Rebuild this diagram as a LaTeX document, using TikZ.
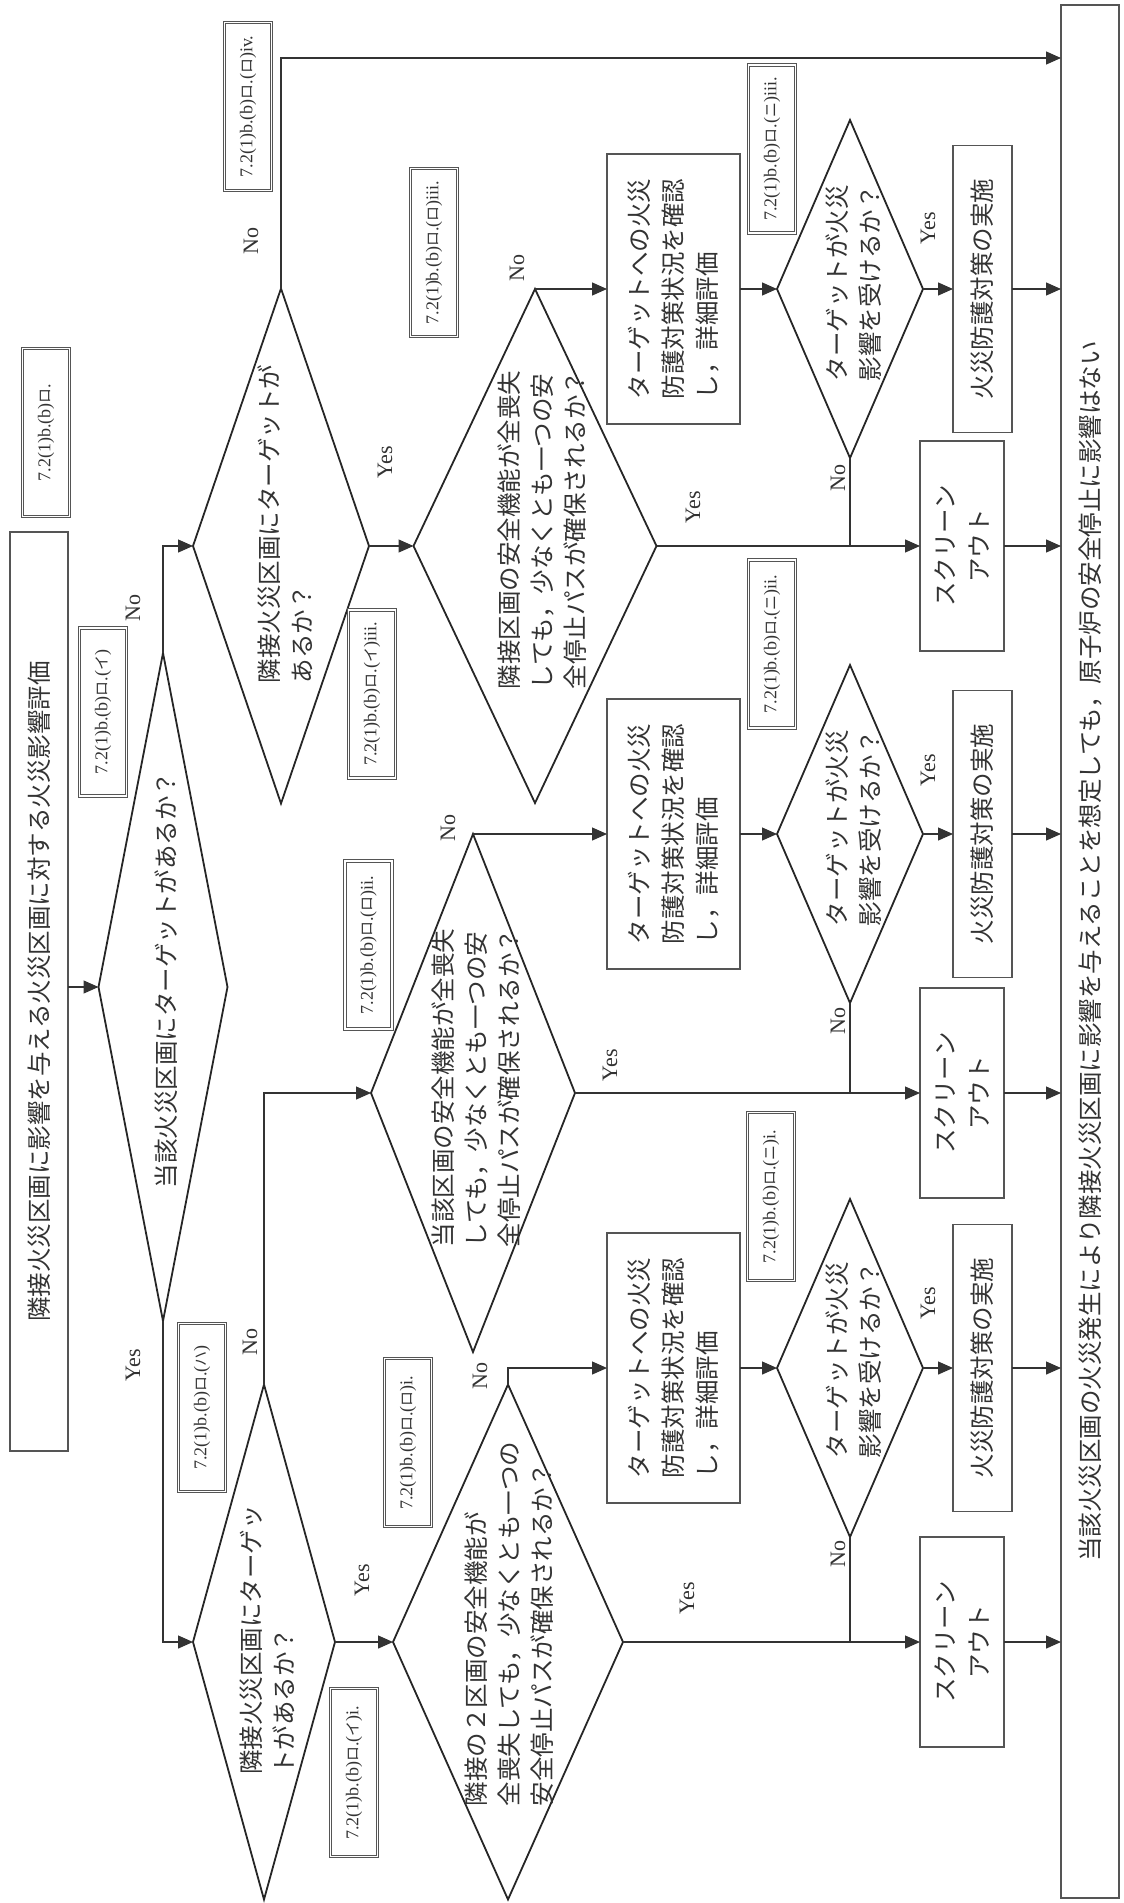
\documentclass[tikz,border=0pt]{standalone}
\usepackage{fontspec}
\setmainfont{Liberation Serif}
\newfontfamily\jp{Noto Sans CJK JP}
\usepackage{tikz}
\usetikzlibrary{arrows.meta,shapes.geometric}
\definecolor{FlowInk}{HTML}{333333}
\definecolor{FlowEdge}{HTML}{555555}
\newcommand{\kj}[1]{{\jp\fontsize{15}{15}\selectfont #1}}
\newcommand{\refno}[1]{7.2(1)b.(b)\kj{ロ}.#1}

\begin{document}
\begin{tikzpicture}[
    x=1pt, y=-1pt,
    color=FlowInk, line width=1.3pt,
    dia/.style={draw=black!85, line width=1.8pt, shape=diamond, inner sep=0pt, outer sep=0pt},
    judge/.style={dia, minimum width=146pt, minimum height=338pt},
    qtxt/.style={rotate=90, align=left, font=\jp\fontsize{24.5}{33}\selectfont},
    flowbox/.style={draw=FlowEdge, rotate=90, inner sep=0pt, outer sep=0pt, font=\jp\fontsize{24.5}{34}\selectfont},
    evalbox/.style={flowbox, align=left, minimum width=270pt, minimum height=133pt},
    actbox/.style={flowbox, minimum width=287pt, minimum height=59pt},
    outbox/.style={flowbox, align=center, minimum width=210pt, minimum height=84pt},
    refbox/.style={draw=FlowEdge, double=white, double distance=1.6pt, line width=0.9pt, rotate=90,
      minimum width=168pt, minimum height=47pt, inner sep=0pt, font=\fontsize{18}{18}\selectfont},
    yn/.style={rotate=90, font=\fontsize{22}{22}\selectfont},
    arr/.style={-{Triangle[length=15pt,width=13pt]}}
  ]
  \useasboundingbox (0,0) rectangle (1124,1903);

  % start and result
  \node[flowbox, minimum width=919pt, minimum height=58pt] (start) at (39,991.5)
    {隣接火災区画に影響を与える火災区画に対する火災影響評価};
  \node[flowbox, minimum width=1893pt, minimum height=58pt] (result) at (1090,951.5)
    {当該火災区画の火災発生により隣接火災区画に影響を与えることを想定しても，原子炉の安全停止に影響はない};

  % questions
  \node[dia, minimum width=129pt, minimum height=668pt] (q1) at (163,987) {};
  \node[qtxt] (q1t) at (166,980) {当該火災区画にターゲットがあるか？};
  \node[dia, minimum width=176pt, minimum height=515pt] (q2) at (281,546) {};
  \node[qtxt] (q2t) at (285.5,524) {隣接火災区画にターゲットが\\あるか？};
  \node[dia, minimum width=243pt, minimum height=514pt] (q3) at (535,546) {};
  \node[qtxt] (q3t) at (542,530) {隣接区画の安全機能が全喪失\\しても，少なくとも一つの安\\全停止パスが確保されるか？};
  \node[judge] (q4) at (850,289) {};
  \node[qtxt] (q4t) at (854,283) {ターゲットが火災\\影響を受けるか？};
  \node[dia, minimum width=142pt, minimum height=515pt] (q5) at (264,1642) {};
  \node[qtxt] (q5t) at (267.5,1640) {隣接火災区画にターゲッ\\トがあるか？};
  \node[dia, minimum width=204pt, minimum height=518pt] (q6) at (473,1093) {};
  \node[qtxt] (q6t) at (476,1088) {当該区画の安全機能が全喪失\\しても，少なくとも一つの安\\全停止パスが確保されるか？};
  \node[judge] (q7) at (850,834) {};
  \node[qtxt] (q7t) at (854,828) {ターゲットが火災\\影響を受けるか？};
  \node[dia, minimum width=230pt, minimum height=515pt] (q8) at (508,1642) {};
  \node[qtxt] (q8t) at (509.5,1624) {隣接の２区画の安全機能が\\全喪失しても，少なくとも一つの\\安全停止パスが確保されるか？};
  \node[judge] (q9) at (850,1368) {};
  \node[qtxt] (q9t) at (854,1360) {ターゲットが火災\\影響を受けるか？};

  % evaluation, measures, screen out
  \node[evalbox] (t1) at (673.5,289) {ターゲットへの火災\\防護対策状況を確認\\し，詳細評価};
  \node[evalbox] (t2) at (673.5,834) {ターゲットへの火災\\防護対策状況を確認\\し，詳細評価};
  \node[evalbox] (t3) at (673.5,1368) {ターゲットへの火災\\防護対策状況を確認\\し，詳細評価};
  \node[actbox] (f1) at (982.5,289) {火災防護対策の実施};
  \node[actbox] (f2) at (982.5,834) {火災防護対策の実施};
  \node[actbox] (f3) at (982.5,1368) {火災防護対策の実施};
  \node[outbox] (s1) at (962,546) {スクリーン\\アウト};
  \node[outbox] (s2) at (962,1093) {スクリーン\\アウト};
  \node[outbox] (s3) at (962,1642) {スクリーン\\アウト};

  % clause tags
  \foreach \n/\px/\py/\clause in {
    r0/46/432.5/{},
    r1/103/712/{(\kj{イ})},
    r2/248/106.5/{(\kj{ロ})iv.},
    r3/434/252.5/{(\kj{ロ})iii.},
    r4/372/694/{(\kj{イ})iii.},
    r5/772/149/{(\kj{ニ})iii.},
    r6/772/644/{(\kj{ニ})ii.},
    r7/368.5/945/{(\kj{ロ})ii.},
    r8/202/1407.5/{(\kj{ハ})},
    r9/771/1196.5/{(\kj{ニ})i.},
    r10/408/1442.5/{(\kj{ロ})i.},
    r11/354/1772.5/{(\kj{イ})i.}
  }{
    \node[refbox] (\n) at (\px,\py) {\refno{\clause}};
  }

  % answers
  \foreach \n/\px/\py/\ans in {
    n1/133/608/No, y1/133/1365/Yes, n2/251/241/No, y2/385/462/Yes,
    n3/517/268/No, y3/928/228/Yes, y4/693/507/Yes, n4/838/478/No,
    n5/250/1342/No, n6/448/828/No, y5/928/770/Yes, y6/610/1065/Yes,
    n7/838/1021/No, y7/362/1580/Yes, n8/480/1376/No, y8/928/1303/Yes,
    y9/687/1598/Yes, n9/838/1554/No
  }{
    \node[yn] (\n) at (\px,\py) {\ans};
  }

  % main flow
  \draw[arr] (start.south |- q1.west) -- (q1.west);
  \draw[arr] (q1.north) |- (q2.west);
  \draw[arr] (q1.south) |- (q5.west);

  % upper branch
  \coordinate (c1) at (281,58);
  \draw[arr] (q2.north) -- (c1) -- (c1 -| result.north);
  \draw[arr] (q2.east) -- (q3.west);
  \draw[arr] (q3.north) -- (q3.north -| t1.north);
  \draw[arr] (t1.south) -- (q4.west);
  \draw[arr] (q4.east) -- (f1.north);
  \draw[arr] (f1.south) -- (f1.south -| result.north);
  \draw[arr] (q3.east) -- (s1.north);
  \draw (q4.south) -- (q4.south |- s1.north);
  \draw[arr] (s1.south) -- (s1.south -| result.north);

  % middle branch
  \draw[arr] (q5.north) |- (q6.west);
  \draw[arr] (q6.north) -- (q6.north -| t2.north);
  \draw[arr] (t2.south) -- (q7.west);
  \draw[arr] (q7.east) -- (f2.north);
  \draw[arr] (f2.south) -- (f2.south -| result.north);
  \draw[arr] (q6.east) -- (s2.north);
  \draw (q7.south) -- (q7.south |- s2.north);
  \draw[arr] (s2.south) -- (s2.south -| result.north);

  % lower branch
  \draw[arr] (q5.east) -- (q8.west);
  \draw[arr] (q8.north) |- (t3.north);
  \draw[arr] (t3.south) -- (q9.west);
  \draw[arr] (q9.east) -- (f3.north);
  \draw[arr] (f3.south) -- (f3.south -| result.north);
  \draw[arr] (q8.east) -- (s3.north);
  \draw (q9.south) -- (q9.south |- s3.north);
  \draw[arr] (s3.south) -- (s3.south -| result.north);
\end{tikzpicture}
\end{document}
